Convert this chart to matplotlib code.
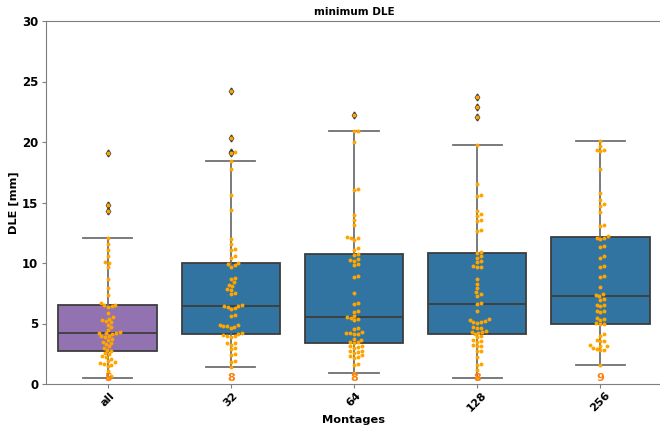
import colorsys
import numpy as np
import matplotlib
matplotlib.use('Agg')
import matplotlib.pyplot as plt
import matplotlib.colors as mcolors

# Localisation error per montage (mm)
montages = ['all', '32', '64', '128', '256']
n_missing = [5, 8, 8, 8, 9]

dle_all = [0.52, 0.7, 1.1, 1.5, 1.6, 1.65, 1.7, 1.8, 1.9, 2.1,
           2.2, 2.3, 2.45, 2.55, 2.7, 2.8, 3.0, 3.1, 3.3, 3.4,
           3.5, 3.6, 3.7, 3.85, 3.95, 4.0, 4.1, 4.18, 4.22, 4.25,
           4.3, 4.5, 4.7, 4.9, 5.1, 5.2, 5.3, 5.4, 5.5, 5.9,
           6.4, 6.45, 6.5, 6.55, 6.7, 7.35, 7.9, 8.7, 9.7, 10.0,
           10.1, 10.55, 11.1, 11.6, 12.1, 14.3, 14.8, 19.1]

dle_32 = [1.4, 1.85, 1.9, 2.4, 2.45, 2.9, 3.0, 3.25, 3.35, 3.4,
          3.9, 3.95, 4.0, 4.05, 4.13, 4.2, 4.6, 4.75, 4.78, 4.82,
          4.85, 4.9, 5.6, 5.7, 6.2, 6.25, 6.4, 6.43, 6.47, 6.5,
          7.45, 7.55, 7.8, 7.85, 8.1, 8.15, 8.4, 8.7, 8.75, 9.7,
          9.8, 9.9, 10.0, 10.45, 10.55, 11.05, 11.15, 11.6, 12.0, 14.4,
          15.6, 17.8, 18.4, 19.1, 19.2, 20.3, 24.2]

dle_64 = [0.88, 1.6, 1.66, 2.18, 2.24, 2.3, 2.36, 2.6, 2.65, 2.7,
          2.75, 3.0, 3.05, 3.1, 3.15, 3.42, 3.45, 3.5, 3.65, 3.75,
          4.1, 4.15, 4.2, 4.25, 4.3, 4.55, 4.65, 5.25, 5.35, 5.45,
          5.5, 5.62, 5.95, 6.0, 6.6, 6.7, 7.55, 8.82, 8.92, 9.85,
          9.95, 10.2, 10.25, 10.3, 10.7, 10.75, 11.1, 11.2, 11.9, 12.05,
          12.1, 12.15, 13.1, 13.55, 14.0, 16.05, 16.15, 20.0, 20.9, 20.95,
          22.2]

dle_128 = [0.52, 1.16, 1.6, 1.66, 2.26, 2.7, 2.76, 3.12, 3.17, 3.22,
           3.5, 3.55, 3.6, 3.85, 3.95, 4.1, 4.22, 4.27, 4.32, 4.37,
           4.6, 4.65, 4.7, 5.05, 5.1, 5.15, 5.2, 5.25, 5.35, 6.0,
           6.6, 6.67, 7.3, 7.4, 7.6, 7.9, 8.3, 8.7, 9.65, 9.7,
           9.75, 10.05, 10.15, 10.45, 10.55, 10.85, 10.9, 12.65, 12.75, 13.45,
           13.55, 13.92, 14.02, 14.3, 15.55, 15.65, 16.5, 19.75, 22.1, 22.9,
           23.7]

dle_256 = [1.57, 2.8, 2.85, 2.9, 2.95, 3.1, 3.15, 3.2, 3.53, 3.58,
           3.63, 4.0, 4.1, 4.98, 5.0, 5.05, 5.32, 5.37, 5.42, 5.95,
           6.0, 6.05, 6.45, 6.5, 6.55, 6.95, 7.05, 7.27, 7.35, 7.45,
           8.0, 8.82, 8.92, 9.65, 9.75, 10.45, 10.55, 11.3, 11.4, 12.02,
           12.06, 12.1, 12.2, 13.05, 13.15, 14.25, 14.75, 14.85, 15.2, 15.8,
           17.8, 19.25, 19.3, 19.35, 19.7, 20.1]

data = [dle_all, dle_32, dle_64, dle_128, dle_256]


def desaturate(color, prop=0.75):
    r, g, b = mcolors.to_rgb(color)
    h, l, s = colorsys.rgb_to_hls(r, g, b)
    return colorsys.hls_to_rgb(h, l, s * prop)


def swarm_x(ax, pos, values, diam):
    # lay points out bottom-up, each as close to the centre line as possible
    pts = ax.transData.transform(np.column_stack([np.full(len(values), pos), values]))
    unit = ax.transData.transform((pos + 1, 0))[0] - ax.transData.transform((pos, 0))[0]
    placed = []
    offs = np.zeros(len(values))
    for i in np.argsort(values, kind='stable'):
        y = pts[i, 1]
        near = [(px, py) for px, py in placed if abs(py - y) < diam]
        cands = [0.0]
        for px, py in near:
            dx = np.sqrt(diam ** 2 - (py - y) ** 2)
            cands += [px + dx, px - dx]
        cands.sort(key=abs)
        best = cands[-1]
        for c in cands:
            if all((c - px) ** 2 + (y - py) ** 2 >= diam ** 2 - 1e-6 for px, py in near):
                best = c
                break
        placed.append((best, y))
        offs[i] = best
    return pos + offs / unit


plt.rcParams['font.family'] = 'DejaVu Sans'
plt.rcParams['font.weight'] = 'bold'

fig = plt.figure(figsize=(6.6, 4.29), dpi=100)
ax = fig.add_axes([46 / 660, 45 / 429, 616 / 660, 363 / 429])

line_c = '#3d3d3d'
box_colors = [desaturate('#9467bd')] + [desaturate('#1f77b4')] * 4

bp = ax.boxplot(data, positions=range(len(montages)), widths=0.8, patch_artist=True,
                boxprops=dict(edgecolor=line_c, linewidth=1.3),
                medianprops=dict(color=line_c, linewidth=1.3),
                whiskerprops=dict(color='#707070', linewidth=1.3),
                capprops=dict(color='#707070', linewidth=1.3),
                flierprops=dict(marker='d', markerfacecolor=line_c,
                                markeredgecolor=line_c, markersize=3.5))
for patch, c in zip(bp['boxes'], box_colors):
    patch.set_facecolor(c)

ax.set_xlim(-0.5, len(montages) - 0.5)
ax.set_ylim(0, 30)

for i, vals in enumerate(data):
    xs = swarm_x(ax, i, vals, 4.0)
    ax.scatter(xs, vals, s=8, color='orange', linewidths=0, zorder=3)
    ax.text(i, 0.05, str(n_missing[i]), color='#ff7f0e', fontsize=8,
            ha='center', va='bottom', zorder=4)

ax.set_xticks(range(len(montages)))
ax.set_xticklabels(montages, rotation=45, fontsize=8, fontweight='bold')
ax.set_yticks(range(0, 31, 5))
ax.tick_params(axis='y', labelsize=8.5, color='#7f7f7f', length=3, pad=2.5)
ax.tick_params(axis='x', labelsize=8, color='#7f7f7f', length=3, pad=1.5)
for lbl in ax.get_yticklabels():
    lbl.set_fontweight('bold')

for side in ['left', 'bottom', 'top', 'right']:
    ax.spines[side].set_color('#7f7f7f')
ax.spines['right'].set_visible(False)

ax.set_title('minimum DLE', fontsize=7.5, fontweight='bold', pad=4)
ax.set_xlabel('Montages', fontsize=8.2, fontweight='bold', labelpad=1)
ax.set_ylabel('DLE [mm]', fontsize=8.2, fontweight='bold', labelpad=2)

fig.savefig('out.png', dpi=100)
